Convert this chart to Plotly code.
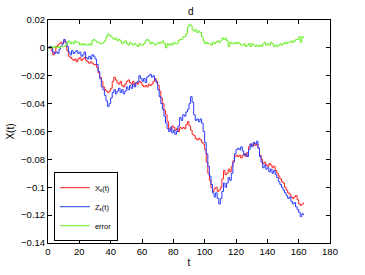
import plotly.graph_objects as go

t = list(range(0, 164))

x_eps = [0.000, 0.001, -0.002, -0.005, -0.003, 0.001, 0.002, 0.003, 0.004, 0.003,
         0.005, 0.004, -0.002, -0.006, -0.007, -0.008, -0.009, -0.008, -0.010, -0.008,
         -0.007, -0.009, -0.008, -0.007, -0.009, -0.010, -0.011, -0.010, -0.011, -0.012,
         -0.012, -0.014, -0.018, -0.021, -0.024, -0.028, -0.030, -0.031, -0.032, -0.031,
         -0.029, -0.024, -0.021, -0.023, -0.025, -0.026, -0.024, -0.027, -0.028, -0.026,
         -0.024, -0.023, -0.025, -0.026, -0.024, -0.027, -0.025, -0.026, -0.024, -0.025,
         -0.027, -0.028, -0.027, -0.028, -0.026, -0.027, -0.026, -0.024, -0.022, -0.024,
         -0.027, -0.031, -0.036, -0.040, -0.045, -0.048, -0.053, -0.058, -0.059, -0.056,
         -0.057, -0.059, -0.058, -0.060, -0.057, -0.058, -0.057, -0.058, -0.055, -0.053,
         -0.056, -0.059, -0.062, -0.063, -0.065, -0.066, -0.065, -0.066, -0.068, -0.069,
         -0.073, -0.082, -0.090, -0.095, -0.100, -0.103, -0.101, -0.100, -0.103, -0.102,
         -0.100, -0.094, -0.088, -0.091, -0.090, -0.087, -0.089, -0.085, -0.081, -0.078,
         -0.077, -0.078, -0.077, -0.079, -0.077, -0.076, -0.078, -0.075, -0.071, -0.069,
         -0.070, -0.068, -0.070, -0.069, -0.072, -0.077, -0.080, -0.083, -0.082, -0.084,
         -0.085, -0.083, -0.084, -0.086, -0.085, -0.088, -0.090, -0.092, -0.094, -0.096,
         -0.097, -0.100, -0.102, -0.104, -0.105, -0.107, -0.108, -0.107, -0.106, -0.109,
         -0.112, -0.113, -0.112, -0.111]

z_eps = [0.000, 0.001, 0.000, -0.003, -0.004, -0.003, -0.004, -0.001, 0.001, 0.003,
         0.006, 0.004, 0.001, -0.003, -0.005, -0.002, -0.004, -0.003, -0.002, -0.004,
         -0.003, -0.006, -0.005, -0.003, -0.007, -0.008, -0.006, -0.008, -0.005, -0.006,
         -0.008, -0.012, -0.017, -0.022, -0.028, -0.030, -0.034, -0.038, -0.042, -0.040,
         -0.036, -0.032, -0.030, -0.033, -0.031, -0.029, -0.032, -0.030, -0.033, -0.031,
         -0.028, -0.030, -0.027, -0.029, -0.026, -0.028, -0.025, -0.024, -0.020, -0.022,
         -0.024, -0.022, -0.025, -0.021, -0.020, -0.019, -0.021, -0.020, -0.023, -0.025,
         -0.030, -0.035, -0.040, -0.044, -0.049, -0.054, -0.058, -0.060, -0.057, -0.061,
         -0.059, -0.062, -0.060, -0.056, -0.050, -0.052, -0.048, -0.049, -0.046, -0.044,
         -0.040, -0.035, -0.039, -0.048, -0.052, -0.051, -0.053, -0.051, -0.054, -0.060,
         -0.068, -0.076, -0.085, -0.092, -0.098, -0.104, -0.107, -0.104, -0.108, -0.112,
         -0.108, -0.103, -0.097, -0.100, -0.097, -0.093, -0.095, -0.090, -0.082, -0.076,
         -0.073, -0.072, -0.073, -0.071, -0.074, -0.077, -0.076, -0.078, -0.073, -0.069,
         -0.071, -0.068, -0.069, -0.067, -0.072, -0.078, -0.082, -0.086, -0.084, -0.087,
         -0.086, -0.089, -0.087, -0.090, -0.088, -0.091, -0.093, -0.096, -0.098, -0.100,
         -0.102, -0.104, -0.106, -0.108, -0.107, -0.110, -0.112, -0.111, -0.114, -0.116,
         -0.118, -0.121, -0.119, -0.120]

error = [0.000, 0.000, 0.001, 0.000, 0.001, 0.000, 0.001, 0.000, 0.001, 0.001,
         0.001, 0.002, 0.004, 0.005, 0.003, 0.004, 0.003, 0.005, 0.004, 0.004,
         0.002, 0.003, 0.002, 0.003, 0.002, 0.002, 0.003, 0.002, 0.005, 0.006,
         0.005, 0.004, 0.004, 0.003, 0.003, 0.004, 0.005, 0.008, 0.010, 0.009,
         0.008, 0.007, 0.006, 0.007, 0.005, 0.006, 0.005, 0.003, 0.004, 0.005,
         0.003, 0.002, 0.004, 0.003, 0.002, 0.003, 0.002, 0.001, 0.003, 0.002,
         0.002, 0.003, 0.005, 0.006, 0.005, 0.003, 0.004, 0.003, 0.002, 0.003,
         0.004, 0.003, 0.004, 0.005, 0.003, 0.000, 0.003, 0.002, 0.003, 0.002,
         0.004, 0.003, 0.003, 0.005, 0.006, 0.006, 0.008, 0.008, 0.010, 0.015,
         0.017, 0.016, 0.013, 0.012, 0.013, 0.011, 0.012, 0.011, 0.008, 0.005,
         0.003, 0.004, 0.003, 0.003, 0.002, 0.004, 0.003, 0.004, 0.005, 0.004,
         0.005, 0.007, 0.006, 0.007, 0.005, 0.001, 0.004, 0.003, 0.003, 0.004,
         0.003, 0.004, 0.003, 0.002, 0.002, 0.003, 0.001, 0.002, 0.003, 0.001,
         0.003, 0.002, 0.001, 0.002, 0.001, 0.002, 0.001, 0.003, 0.004, 0.002,
         0.003, 0.002, 0.004, 0.003, 0.001, 0.002, 0.001, 0.002, 0.003, 0.002,
         0.003, 0.004, 0.003, 0.004, 0.004, 0.005, 0.004, 0.005, 0.006, 0.006,
         0.008, 0.004, 0.008, 0.007]

x_tickvals = [0, 20, 40, 60, 80, 100, 120, 140, 160, 180]
x_ticktext = ["0", "20", "40", "60", "80", "100", "120", "140", "160", "180"]
y_tickvals = [0.02, 0, -0.02, -0.04, -0.06, -0.08, -0.1, -0.12, -0.14]
y_ticktext = ["0.02", "0", "\u22120.02", "\u22120.04", "\u22120.06", "\u22120.08",
              "\u22120.1", "\u22120.12", "\u22120.14"]

series_names = ["X<sub>\u03b5</sub>(t)", "Z<sub>\u03b5</sub>(t)", "error"]

fig = go.Figure()
fig.add_trace(go.Scatter(x=t, y=x_eps, mode="lines", name=series_names[0],
                         line=dict(color="#ff2020", width=1, shape="hv")))
fig.add_trace(go.Scatter(x=t, y=z_eps, mode="lines", name=series_names[1],
                         line=dict(color="#2a3cff", width=1, shape="hv")))
fig.add_trace(go.Scatter(x=t, y=error, mode="lines", name=series_names[2],
                         line=dict(color="#66ee22", width=1, shape="hv")))

axis_common = dict(showline=True, linecolor="black", linewidth=1, mirror="ticks",
                   ticks="inside", ticklen=4, tickcolor="black", showgrid=False,
                   zeroline=False, automargin=False,
                   tickfont=dict(size=9.5, color="black"))

fig.update_layout(
    width=365, height=275,
    margin=dict(l=48, r=35, t=20, b=32),
    paper_bgcolor="white", plot_bgcolor="white",
    font=dict(family="Liberation Sans, Arial, sans-serif", size=10, color="black"),
    title=dict(text="d", x=0.523, xanchor="center", y=0.96, yanchor="middle",
               font=dict(size=10)),
    showlegend=True,
    legend=dict(x=0.021, y=0.008, xanchor="left", yanchor="bottom",
                bgcolor="white", bordercolor="black", borderwidth=1,
                font=dict(size=7.5), tracegroupgap=0, itemwidth=30),
    xaxis=dict(range=[0, 180], tickvals=x_tickvals, ticktext=x_ticktext,
               title=dict(text="t", standoff=2, font=dict(size=10)), **axis_common),
    yaxis=dict(range=[-0.14, 0.02], tickvals=y_tickvals, ticktext=y_ticktext,
               title=dict(text="X(t)", standoff=4, font=dict(size=10)), **axis_common),
)

fig.write_html("out.html",
               config={"displayModeBar": False},
               post_script="document.body.style.margin='0';document.body.style.overflow='hidden';")
